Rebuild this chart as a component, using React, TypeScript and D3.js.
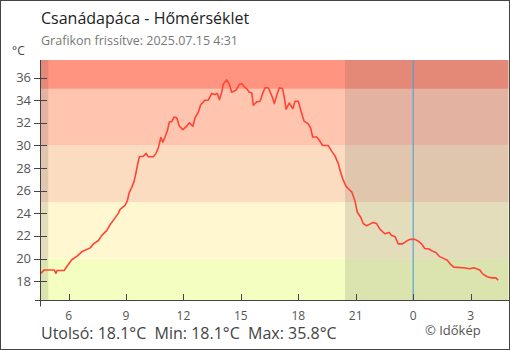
import * as d3 from 'd3';

// hours counted from 2025.07.14 00:00 (values > 24 are the next day)
const hours = [
  4.55, 4.73, 5.25, 5.34, 5.4, 5.77, 5.91, 6.17, 6.43, 6.69, 7.13, 7.3, 7.56, 7.74, 8.0, 8.17, 8.43, 8.6, 8.69, 8.95,
  9.07, 9.16, 9.3, 9.42, 9.53, 9.6, 9.7, 9.91, 10.05, 10.17, 10.43, 10.57, 10.69, 10.82, 10.92, 11.04, 11.16, 11.27,
  11.39, 11.51, 11.65, 11.79, 11.97, 12.17, 12.31, 12.49, 12.61, 12.78, 12.9, 13.13, 13.3, 13.48, 13.65, 13.77, 13.88,
  14.0, 14.08, 14.26, 14.4, 14.52, 14.75, 14.92, 15.05, 15.17, 15.31, 15.44, 15.57, 15.65, 15.83, 16.0, 16.14, 16.26,
  16.43, 16.56, 16.66, 16.75, 16.87, 17.01, 17.18, 17.25, 17.36, 17.53, 17.71, 17.83, 18.0, 18.12, 18.3, 18.52, 18.65,
  18.75, 18.96, 19.1, 19.27, 19.56, 19.74, 19.91, 20.09, 20.18, 20.32, 20.49, 20.66, 20.79, 20.96, 21.08, 21.26, 21.39,
  21.57, 21.74, 21.91, 22.09, 22.26, 22.52, 22.75, 22.87, 23.05, 23.22, 23.45, 23.66, 23.83, 24.09, 24.26, 24.44, 24.61,
  24.84, 24.96, 25.19, 25.36, 25.61, 25.78, 25.95, 26.13, 26.61, 26.96, 27.17, 27.48, 27.63, 27.87, 28.1, 28.32, 28.44,
];
const temps = [
  18.7, 19.0, 19.0, 18.7, 18.95, 18.95, 19.3, 19.9, 20.2, 20.6, 20.95, 21.3, 21.6, 22.05, 22.5, 23.0, 23.6, 24.0, 24.35, 24.7,
  25.1, 25.8, 26.3, 26.8, 27.65, 28.3, 29.0, 29.05, 29.3, 29.0, 29.0, 29.3, 29.8, 30.7, 30.3, 30.75, 31.3, 32.1,
  32.1, 32.5, 32.45, 31.7, 31.4, 31.7, 32.0, 31.7, 32.45, 32.95, 33.6, 34.0, 34.0, 34.6, 34.5, 34.6, 34.05,
  34.7, 35.4, 35.8, 35.4, 34.7, 34.9, 35.4, 35.45, 35.2, 35.0, 34.7, 34.65, 33.55, 33.85, 33.9, 34.6, 35.1,
  35.1, 34.6, 34.2, 33.7, 34.4, 35.1, 35.0, 34.45, 33.2, 33.75, 33.25, 33.9, 33.9, 33.15, 32.15, 31.9, 31.5,
  30.75, 30.75, 30.45, 30.0, 30.0, 29.5, 29.1, 28.4, 27.8, 27.05, 26.4, 26.1, 25.9, 25.1, 24.1, 23.65, 23.1,
  22.9, 23.05, 23.2, 23.1, 22.6, 22.2, 22.3, 22.05, 21.95, 21.3, 21.3, 21.55, 21.7, 21.7, 21.55, 21.3, 20.9,
  20.85, 20.7, 20.55, 20.2, 20.0, 19.85, 19.5, 19.25, 19.2, 19.1, 19.2, 19.0, 18.65, 18.4, 18.3, 18.3, 18.1,
];

const timeDomain = [4.56, 28.98];
const tempDomain = [16.3, 37.55];
const xTicks = [6, 9, 12, 15, 18, 21, 24, 27];
const yTicks = [18, 20, 22, 24, 26, 28, 30, 32, 34, 36];
const sunrise = 4.94;
const sunset = 20.44;
const midnight = 24;

const bandEdges = [20, 25, 30, 35];
const bandColors = ['#f5fec1', '#fff7cf', '#fcdcc0', '#ffc5af', '#ff9580'];

const font = '"Open Sans", "Noto Sans", sans-serif';

export default function App() {
  const W = 510, H = 350;
  const left = 41, right = 508.5, top = 60, bottom = 300.5;
  const x = d3.scaleLinear().domain(timeDomain).range([left, right]);
  const y = d3.scaleLinear().domain(tempDomain).range([bottom, top]);

  const line = d3.line<number>()
    .x((_, i) => x(hours[i]))
    .y(d => y(d));

  const edges = [tempDomain[0], ...bandEdges, tempDomain[1]];
  const maxT = d3.max(temps)!;
  const minT = d3.min(temps)!;
  const last = temps[temps.length - 1];

  return (
    <div style={{ position: 'fixed', left: 0, top: 0 }}>
      <svg width={W} height={H} style={{ display: 'block', fontFamily: font }}>
        <rect x={0} y={0} width={W} height={H} fill="#fff" />
        {bandColors.map((c, i) => (
          <rect key={c} x={left} width={right - left}
            y={y(edges[i + 1])} height={y(edges[i]) - y(edges[i + 1])} fill={c} />
        ))}
        {/* night shading */}
        <rect x={left} y={top} width={x(sunrise) - left} height={bottom - top} fill="rgba(75,75,75,0.15)" />
        <rect x={x(sunset)} y={top} width={right - x(sunset)} height={bottom - top} fill="rgba(75,75,75,0.15)" />
        <line x1={x(midnight)} x2={x(midnight)} y1={top} y2={bottom} stroke="#3a9ee0" strokeWidth={1} />

        <path d={line(temps) ?? ''} fill="none" stroke="#ff4436" strokeWidth={1.6} strokeLinejoin="round" />

        {/* axes */}
        <line x1={40.5} x2={40.5} y1={top} y2={306.5} stroke="#444" />
        <line x1={35} x2={right + 1} y1={bottom} y2={bottom} stroke="#444" />
        {yTicks.map(t => (
          <g key={t}>
            <line x1={34} x2={47} y1={Math.round(y(t)) + 0.5} y2={Math.round(y(t)) + 0.5} stroke="#444" />
            <text x={31} y={y(t) + 4.5} textAnchor="end" fontSize={13} fill="#555">{t}</text>
          </g>
        ))}
        {xTicks.map(t => (
          <g key={t}>
            <line x1={Math.round(x(t)) + 0.5} x2={Math.round(x(t)) + 0.5} y1={294} y2={bottom} stroke="#444" />
            <text x={x(t)} y={320} textAnchor="middle" fontSize={12} fill="#555">{t % 24}</text>
          </g>
        ))}
        <text x={12} y={55} fontSize={12} fill="#444">°C</text>

        <text x={41} y={24} fontSize={16} fill="#222">Csanádapáca - Hőmérséklet</text>
        <text x={41} y={45} fontSize={12.5} fill="#777">Grafikon frissítve: 2025.07.15 4:31</text>
        <text x={41} y={339} fontSize={16} fill="#444" style={{ whiteSpace: 'pre' }}>
          {`Utolsó: ${last.toFixed(1)}°C  Min: ${minT.toFixed(1)}°C  Max: ${maxT.toFixed(1)}°C`}
        </text>
        <text x={425} y={335} fontSize={13} fill="#555">© Időkép</text>

        <rect x={0.5} y={0.5} width={W - 1} height={H - 1} fill="none" stroke="#444" />
      </svg>
    </div>
  );
}
